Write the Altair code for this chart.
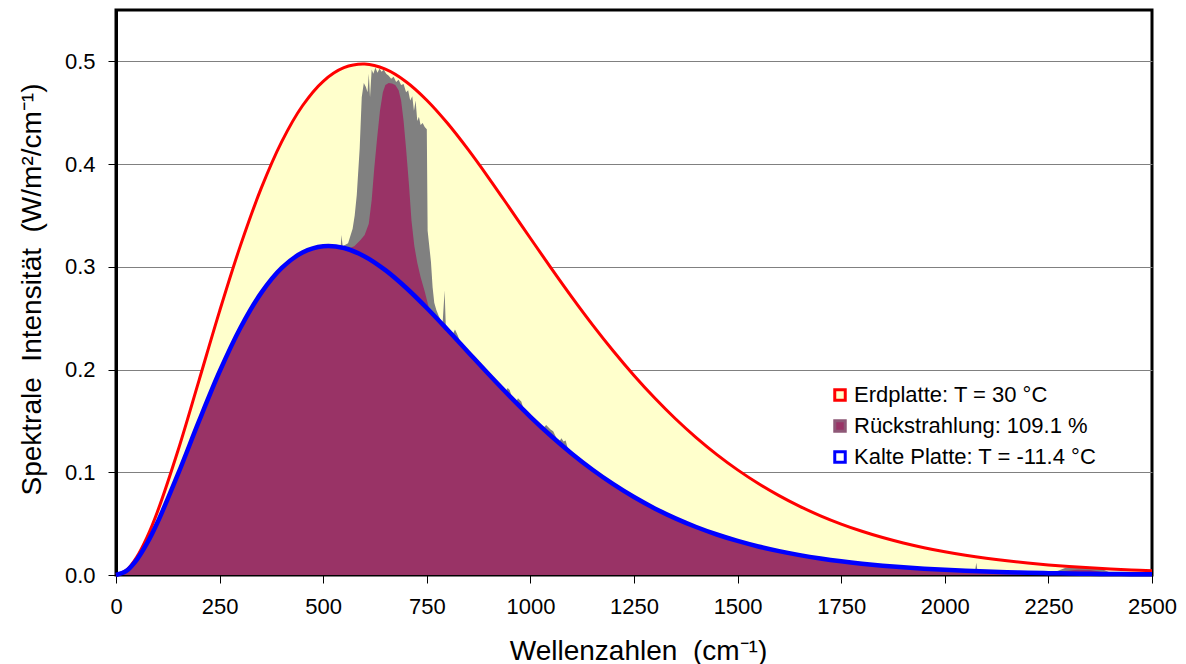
import altair as alt
import pandas as pd

# ---- data -----------------------------------------------------------------
nu = [0, 25, 50, 75, 100, 150, 200, 250, 300, 350, 400, 450, 500, 550, 600, 650,
      700, 750, 800, 850, 900, 950, 1000, 1050, 1100, 1150, 1200, 1250, 1300,
      1350, 1400, 1450, 1500, 1550, 1600, 1650, 1700, 1750, 1800, 1850, 1900,
      1950, 2000, 2050, 2100, 2150, 2200, 2250, 2300, 2350, 2400, 2450, 2500]

erdplatte = [0.0, 0.00464, 0.01746, 0.03692, 0.06161, 0.12167, 0.18901, 0.25690,
             0.32039, 0.37608, 0.42192, 0.45680, 0.48064, 0.49385, 0.49739,
             0.49238, 0.48021, 0.46220, 0.43974, 0.41402, 0.38619, 0.35718,
             0.32783, 0.29875, 0.27055, 0.24355, 0.21809, 0.19429, 0.17229,
             0.15212, 0.13378, 0.11720, 0.10232, 0.08904, 0.07724, 0.06681,
             0.05763, 0.04958, 0.04256, 0.03644, 0.03114, 0.02655, 0.02259,
             0.01919, 0.01627, 0.01377, 0.01164, 0.00982, 0.00828, 0.00696,
             0.00585, 0.00491, 0.00411]

kalte_platte = [0.0, 0.00397, 0.01479, 0.03094, 0.05107, 0.09860, 0.14950, 0.19806,
                0.24041, 0.27436, 0.29887, 0.31386, 0.31996, 0.31830, 0.31012,
                0.29679, 0.27966, 0.25995, 0.23872, 0.21689, 0.19515, 0.17406,
                0.15403, 0.13533, 0.11812, 0.10248, 0.08842, 0.07590, 0.06484,
                0.05515, 0.04672, 0.03943, 0.03316, 0.02780, 0.02323, 0.01935,
                0.01608, 0.01332, 0.01101, 0.00908, 0.00748, 0.00614, 0.00503,
                0.00412, 0.00336, 0.00274, 0.00223, 0.00181, 0.00147, 0.00119,
                0.00096, 0.00078, 0.00063]

# Rückstrahlung: CO2 band, upper envelope (grey) and lower envelope (maroon)
band_top_nu = [538, 542, 544, 547, 560, 571, 576, 581, 588, 593, 598, 603, 607, 610,
               613, 617, 621, 626, 631, 636, 641, 646, 652, 658, 664, 670, 676, 682,
               688, 694, 700, 705, 710, 715, 719, 723, 727, 731, 735, 740, 745, 750,
               752, 756, 760, 764, 768, 773, 779, 785]
band_top = [0.3187, 0.3180, 0.3310, 0.3200, 0.3230, 0.3370, 0.3500, 0.3700, 0.4150,
            0.4650, 0.4790, 0.4750, 0.4700, 0.4880, 0.4650, 0.4920, 0.4880, 0.4940,
            0.4890, 0.4930, 0.4900, 0.4920, 0.4880, 0.4860, 0.4830, 0.4850, 0.4800,
            0.4820, 0.4770, 0.4780, 0.4700, 0.4720, 0.4620, 0.4660, 0.4520, 0.4620,
            0.4420, 0.4460, 0.4380, 0.4400, 0.4360, 0.4340, 0.3350, 0.3200, 0.3050,
            0.2800, 0.2650, 0.2580, 0.2520, 0.2470]

band_low_nu = [560, 575, 590, 600, 610, 617, 623, 630, 637, 644, 650, 658, 666, 674,
               682, 688, 694, 700, 707, 713, 720, 727, 735, 745, 757]
band_low = [0.3178, 0.3200, 0.3260, 0.3310, 0.3420, 0.3650, 0.3950, 0.4250, 0.4520,
            0.4700, 0.4770, 0.4790, 0.4785, 0.4770, 0.4720, 0.4620, 0.4420, 0.4150,
            0.3800, 0.3450, 0.3200, 0.3040, 0.2900, 0.2760, 0.2570]

# small features of the back-radiation spectrum above the cold curve
spike_a_nu = [788, 793, 796, 812, 818, 825, 832]
spike_a = [0.2440, 0.2770, 0.2405, 0.2336, 0.2390, 0.2330, 0.2250]
bump_b_nu = [940, 945, 950, 957, 965, 970, 978, 985]
bump_b = [0.1783, 0.1820, 0.1800, 0.1712, 0.1680, 0.1720, 0.1690, 0.1600]
bump_c_nu = [1030, 1038, 1048, 1055, 1068, 1075, 1080, 1085, 1092]
bump_c = [0.1427, 0.1460, 0.1420, 0.1400, 0.1290, 0.1330, 0.1300, 0.1310, 0.1208]
spike_d_nu = [2073, 2076, 2079]
spike_d = [0.0038, 0.0120, 0.0037]
bump_e_nu = [2255, 2275, 2290, 2310, 2335, 2360, 2380, 2396, 2412]
bump_e = [0.0018, 0.0045, 0.0068, 0.0075, 0.0074, 0.0068, 0.0055, 0.0030, 0.0009]
bump_e_low_nu = [2260, 2290, 2320, 2350, 2380, 2400]
bump_e_low = [0.0018, 0.0040, 0.0052, 0.0048, 0.0030, 0.0010]

series_names = ["Erdplatte: T = 30 °C", "Rückstrahlung: 109.1 %", "Kalte Platte: T = -11.4 °C"]
x_ticks = [0, 250, 500, 750, 1000, 1250, 1500, 1750, 2000, 2250, 2500]
y_ticks = [0.0, 0.1, 0.2, 0.3, 0.4, 0.5]

# ---- tables -----------------------------------------------------------------
curves = pd.DataFrame({"nu": nu, "hot": erdplatte, "cold": kalte_platte})


def spliced(segments):
    rows = [(n, v) for n, v in zip(nu, kalte_platte)
            if not any(min(s[0]) <= n <= max(s[0]) for s in segments)]
    for s_nu, s_val in segments:
        rows += list(zip(s_nu, s_val))
    df = pd.DataFrame(rows, columns=["nu", "val"]).sort_values("nu")
    return df.reset_index(drop=True)


grey_df = spliced([(band_top_nu, band_top), (spike_a_nu, spike_a), (bump_b_nu, bump_b),
                   (bump_c_nu, bump_c), (spike_d_nu, spike_d), (bump_e_nu, bump_e)])
maroon_df = spliced([(band_low_nu, band_low), (bump_e_low_nu, bump_e_low)])
legend_df = pd.DataFrame({"serie": series_names})

FONT = "Liberation Sans"

x_scale = alt.Scale(domain=[0, 2500], nice=False, zero=False)
y_scale = alt.Scale(domain=[0, 0.55], nice=False)

x_enc = alt.X("nu:Q", scale=x_scale,
              axis=alt.Axis(values=x_ticks, format="d", title="Wellenzahlen \u00a0(cm⁻¹)",
                            grid=False, tickSize=8, labelPadding=13, labelFlush=False,
                            titleX=522, titleY=84, titleBaseline="alphabetic",
                            domainColor="black", tickColor="black"))
y_axis = alt.Axis(values=y_ticks, format=".1f",
                  title="Spektrale \u00a0Intensität \u00a0(W/m²/cm⁻¹)",
                  grid=True, gridColor="#808080", gridWidth=1, tickSize=8,
                  labelPadding=13, titleAngle=270, titleX=-76, titleY=279,
                  titleBaseline="alphabetic", titleAlign="center",
                  domainColor="black", domainWidth=3, tickColor="black")

base = alt.Chart(curves)
SMOOTH = "catmull-rom"

yellow = base.mark_area(color="#FFFFCC", interpolate=SMOOTH).encode(
    x=x_enc, y=alt.Y("hot:Q", scale=y_scale, axis=y_axis))
grey = alt.Chart(grey_df).mark_area(color="#808080", interpolate="linear").encode(
    x="nu:Q", y="val:Q")
maroon = alt.Chart(maroon_df).mark_area(color="#993366", interpolate="linear").encode(
    x="nu:Q", y="val:Q")
red = base.mark_line(color="#FF0000", strokeWidth=3, interpolate=SMOOTH).encode(
    x="nu:Q", y="hot:Q")
blue = base.mark_line(color="#0000FF", strokeWidth=4.5, interpolate=SMOOTH).encode(
    x="nu:Q", y="cold:Q")

leg = alt.Legend(title=None, orient="none", legendX=713, legendY=374,
                 symbolType="square", symbolSize=110, symbolStrokeWidth=3,
                 labelFont=FONT, labelFontSize=22, labelColor="black",
                 rowPadding=7, labelOffset=3, padding=0, symbolOpacity=1,
                 labelLimit=500)
legend_layer = alt.Chart(legend_df).mark_square(opacity=1, filled=True, size=110,
                                                strokeWidth=3).encode(
    fill=alt.Fill("serie:N", scale=alt.Scale(domain=series_names,
                                             range=["#FFFFCC", "#993366", "#FFFFFF"]),
                  legend=leg),
    stroke=alt.Stroke("serie:N", scale=alt.Scale(domain=series_names,
                                                 range=["#FF0000", "#8E5877", "#0000FF"]),
                      legend=leg),
).transform_filter("datum.serie == 'keine'")

chart = alt.layer(yellow, grey, maroon, red, blue, legend_layer).properties(
    width=1036, height=565,
    autosize=alt.AutoSizeParams(type="none"),
    padding={"left": 108, "top": 2, "right": 26, "bottom": 90},
    background="white",
).configure(
    font=FONT,
    view=alt.ViewConfig(stroke="black", strokeWidth=3),
    axis=alt.AxisConfig(labelFont=FONT, labelFontSize=22, labelColor="black",
                        titleFont=FONT, titleFontSize=28, titleFontWeight="normal",
                        titleColor="black", tickWidth=1),
)

chart.save("out.html", embed_options={"renderer": "svg", "actions": False})
